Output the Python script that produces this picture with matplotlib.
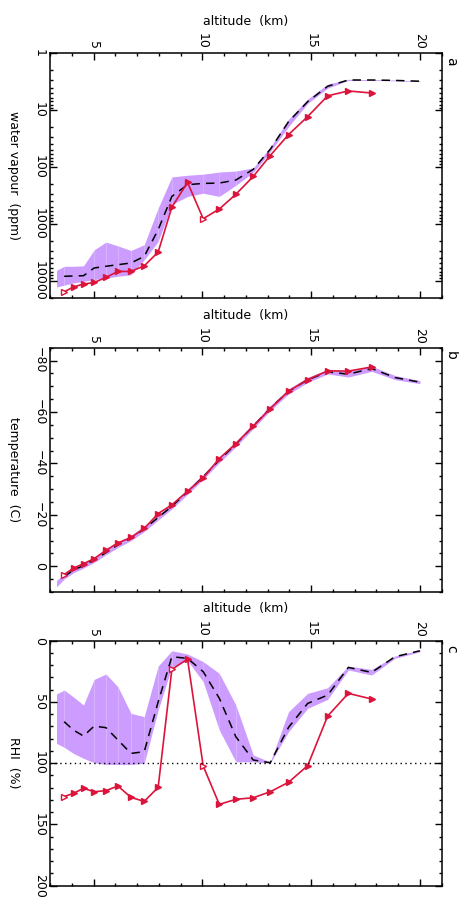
import numpy as np
import matplotlib.pyplot as plt
from matplotlib.ticker import FixedLocator, FixedFormatter, MultipleLocator, LogLocator, NullFormatter

# sonde levels (km) and model levels (km)
alt_obs = [3.65, 4.08, 4.54, 5.03, 5.57, 6.12, 6.72, 7.33, 7.97, 8.60, 9.32,
           10.04, 10.78, 11.54, 12.34, 13.12, 13.96, 14.84, 15.76, 16.71, 17.78]
alt_mod = [3.30, 3.65, 4.08, 4.54, 5.03, 5.57, 6.12, 6.72, 7.33, 7.97, 8.60, 9.32,
           10.04, 10.78, 11.54, 12.34, 13.12, 13.96, 14.84, 15.76, 16.71, 17.78,
           18.85, 20.0]

# water vapour (ppm)
wv_obs = [15800, 12900, 11500, 10800, 8800, 6900, 6900, 5500, 3150, 510, 187,
          815, 550, 303, 147, 63, 27, 13, 5.6, 4.6, 5.0]
wv_med = [np.nan, 8400, 8300, 8200, 6000, 5600, 5250, 4900, 3750, 1270, 330, 205,
          195, 192, 170, 110, 49, 16, 7.1, 3.8, 2.95, 2.95, 3.0, 3.1]
wv_lo = [6600, 5600, 5600, 5500, 2880, 2100, 2450, 2950, 2340, 530, 150, 140,
         134, 123, 118, 104, 45, 14.5, 6.4, 3.5, 2.87, 2.9, 2.95, 3.05]
wv_hi = [13000, 12000, 11000, 10300, 9600, 9000, 8400, 7900, 4300, 2050, 460, 330,
         290, 330, 210, 125, 54, 19.5, 7.6, 4.1, 3.0, 3.0, 3.05, 3.15]

# temperature (C)
t_obs = [3.2, 0.7, -1.0, -3.0, -6.2, -9.1, -11.2, -14.7, -20.5, -23.9, -29.2,
         -34.4, -41.9, -47.7, -54.5, -61.3, -68.1, -72.6, -76.0, -75.9, -77.5]
t_med = [np.nan, 4.0, 1.5, -0.3, -2.5, -5.3, -8.3, -11.0, -14.5, -19.0, -23.3, -29.0,
         -34.8, -41.3, -47.5, -54.5, -61.5, -68.0, -72.5, -75.6, -74.7, -76.9, -73.4, -71.6]
t_lo = [5.5, 3.0, 0.5, -1.3, -3.5, -6.5, -9.3, -12.0, -15.8, -20.0, -24.3, -30.0,
        -35.8, -42.3, -48.5, -55.5, -62.5, -69.0, -73.5, -76.5, -75.8, -77.8, -74.2, -72.2]
t_hi = [8.0, 5.0, 2.5, 0.7, -1.5, -4.5, -7.3, -10.0, -13.5, -18.0, -22.3, -28.0,
        -33.8, -40.3, -46.5, -53.5, -60.5, -67.0, -71.5, -74.8, -73.6, -75.8, -72.6, -71.0]

# relative humidity over ice (%)
rh_obs = [127.3, 124.6, 120.5, 123.3, 122.4, 118.6, 127.9, 131.2, 119.7, 23.4, 15.0,
          102.3, 133.6, 129.5, 128.2, 123.3, 115.6, 102.0, 61.5, 43.0, 47.6]
rh_med = [np.nan, 66.1, 73.0, 77.8, 69.7, 71.0, 81.0, 92.0, 90.6, 50.0, 13.1, 14.4,
          25.3, 47.0, 78.4, 97.4, 99.6, 70.8, 51.2, 44.4, 21.8, 25.9, 13.1, 8.2]
rh_lo = [43.5, 40.3, 46.0, 52.5, 31.6, 27.2, 37.6, 59.3, 62.0, 20.7, 8.2, 10.9,
         17.1, 26.7, 52.5, 93.3, 99.0, 58.0, 43.0, 38.4, 20.7, 23.4, 12.5, 7.6]
rh_hi = [83.8, 87.0, 92.0, 96.0, 99.6, 101.0, 101.0, 101.0, 100.0, 56.6, 21.2, 16.3,
         33.5, 72.9, 98.8, 98.8, 100.0, 74.3, 55.2, 47.9, 23.9, 28.0, 14.4, 9.0]

band_col = '#cc9cff'
red = '#dc143c'
fs = 9

W, H = 459, 898
fig = plt.figure(figsize=(W / 100, H / 100), dpi=100)
plt.rcParams['font.family'] = 'DejaVu Sans'

# panel boxes in pixels: top, bottom
boxes = [(53.3, 297.7), (347.7, 592.0), (640.7, 885.7)]
left_px, right_px = 50.0, 441.7


def draw_panel(k, obs, med, lo, hi, ylabel, letter, open_pts):
    top, bot = boxes[k]
    ax = fig.add_axes([left_px / W, 1 - bot / H, (right_px - left_px) / W, (bot - top) / H])
    # band drawn piece by piece
    for i in range(len(alt_mod) - 1):
        ax.fill_between(alt_mod[i:i + 2], lo[i:i + 2], hi[i:i + 2], color=band_col, lw=0)
    ax.plot(alt_mod, med, color='black', lw=1.1, ls=(0, (5.5, 4)))
    ax.plot(alt_obs, obs, color=red, lw=1.2)
    for i in range(len(alt_obs)):
        fc = 'white' if i in open_pts else red
        ax.plot(alt_obs[i], obs[i], marker='>', ms=5, mfc=fc, mec=red, mew=1.0, ls='none')

    ax.set_xlim(3, 21)
    ax.xaxis.set_major_locator(MultipleLocator(5))
    ax.xaxis.set_minor_locator(MultipleLocator(1))
    ax.xaxis.tick_top()
    ax.xaxis.set_label_position('top')
    ax.set_xlabel('altitude  (km)', fontsize=fs, labelpad=6)
    ax.set_ylabel(ylabel, fontsize=fs, rotation=-90, labelpad=14, va='center')
    ax.tick_params(which='both', direction='in', top=True, bottom=True, left=True, right=True,
                   labeltop=True, labelbottom=False, labelleft=True, labelright=False,
                   labelsize=fs, width=1.0)
    ax.tick_params(which='major', length=5, pad=3)
    ax.tick_params(which='minor', length=2.5)
    for lab in ax.get_xticklabels():
        lab.set_rotation(-90)
    for s in ax.spines.values():
        s.set_linewidth(1.1)
    fig.text(451 / W, 1 - (top + 8) / H, letter, fontsize=fs + 1, rotation=-90,
             ha='center', va='center')
    return ax


def turn_ylabels(ax):
    for lab in ax.get_yticklabels():
        lab.set_rotation(-90)
        lab.set_va('center')


ax1 = draw_panel(0, wv_obs, wv_med, wv_lo, wv_hi, 'water vapour  (ppm)', 'a', [0, 11])
ax1.set_yscale('log')
ax1.set_ylim(2e4, 1)
ax1.yaxis.set_major_locator(FixedLocator([1, 10, 100, 1000, 10000]))
ax1.yaxis.set_major_formatter(FixedFormatter(['1', '10', '100', '1000', '10000']))
ax1.yaxis.set_minor_locator(LogLocator(subs=range(2, 10)))
ax1.yaxis.set_minor_formatter(NullFormatter())
turn_ylabels(ax1)

ax2 = draw_panel(1, t_obs, t_med, t_lo, t_hi, 'temperature  (C)', 'b', [0])
ax2.set_ylim(10, -85)
ax2.yaxis.set_major_locator(MultipleLocator(20))
ax2.yaxis.set_minor_locator(MultipleLocator(5))
turn_ylabels(ax2)

ax3 = draw_panel(2, rh_obs, rh_med, rh_lo, rh_hi, 'RHI  (%)', 'c', [0, 9, 11])
ax3.axhline(100, color='black', lw=1.0, ls=(0, (1, 2.5)))
ax3.set_ylim(200, 0)
ax3.yaxis.set_major_locator(MultipleLocator(50))
ax3.yaxis.set_minor_locator(MultipleLocator(10))
turn_ylabels(ax3)

fig.savefig('out.png', dpi=100)
